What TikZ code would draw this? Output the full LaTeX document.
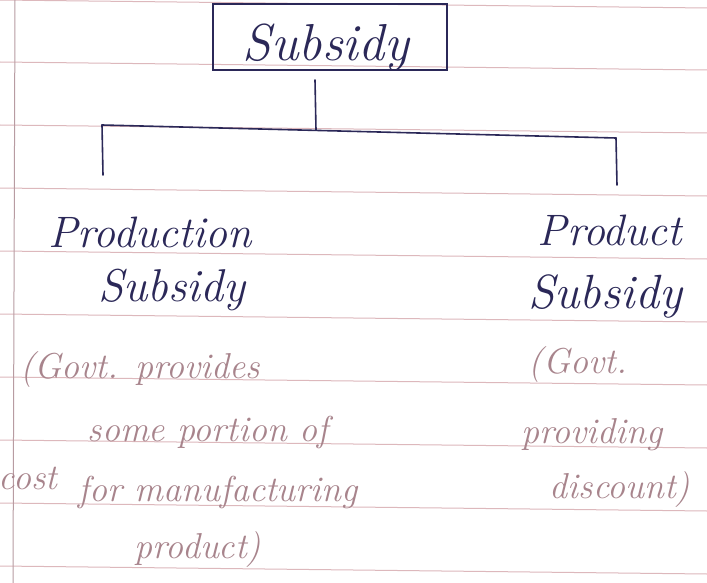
\documentclass[tikz,border=0pt]{standalone}
\usepackage{fontspec}
\definecolor{ink}{HTML}{2B2858}
\definecolor{faint}{HTML}{A8848C}
\definecolor{rule}{HTML}{DDB8BC}
\definecolor{margin}{HTML}{B89CA2}
\tikzset{
  inkline/.style={draw=ink, line width=1.6pt, line cap=round},
  mainlbl/.style={text=ink, inner sep=0pt, font=\itshape\fontsize{44}{44}\selectfont},
  notelbl/.style={text=faint, inner sep=0pt, font=\itshape\fontsize{36}{36}\selectfont},
  ruling/.style={draw=rule, line width=1pt}
}
\begin{document}
\begin{tikzpicture}[x=1pt,y=-1pt]
\useasboundingbox (0,0) rectangle (707,583);
\fill[white] (0,0) rectangle (707,583);
% ruled paper
\foreach \yy in {0,62,125,188,251,314,377,440,503,566}
  \draw[ruling] (0,\yy) -- (707,\yy+8);
\draw[draw=margin, line width=1pt] (15,0) -- (13,583);
% title box
\node[draw=ink, line width=1.5pt, minimum width=234pt, minimum height=66pt, inner sep=0pt] (title) at (330,37) {};
\node[mainlbl, font=\itshape\fontsize{52}{52}\selectfont] (titletext) at (326,48) {Subsidy};
% tree
\coordinate (jtop) at (315,80);
\coordinate (jm) at (316,130);
\coordinate (jl) at (102,125);
\coordinate (jr) at (616,138);
\coordinate (lend) at (103,175);
\coordinate (rend) at (617,185);
\draw[inkline] (jtop) -- (jm);
\draw[inkline] (jl) -- (jr);
\draw[inkline] (jl) -- (lend);
\draw[inkline] (jr) -- (rend);
% left branch
\node[mainlbl] (prod1) at (150,232) {Production};
\node[mainlbl, font=\itshape\fontsize{46}{46}\selectfont] (prod2) at (172,290) {Subsidy};
\node[notelbl] (pn1) at (140,370) {(Govt. provides};
\node[notelbl] (pn2) at (208,432) {some portion of};
\node[notelbl] (pn3) at (28,478) {cost};
\node[notelbl] (pn4) at (218,492) {for manufacturing};
\node[notelbl] (pn5) at (198,550) {product)};
% right branch
\node[mainlbl] (pt1) at (610,230) {Product};
\node[mainlbl, font=\itshape\fontsize{48}{48}\selectfont] (pt2) at (605,296) {Subsidy};
\node[notelbl] (tn1) at (578,365) {(Govt.};
\node[notelbl] (tn2) at (592,435) {providing};
\node[notelbl] (tn3) at (620,490) {discount)};
\end{tikzpicture}
\end{document}
